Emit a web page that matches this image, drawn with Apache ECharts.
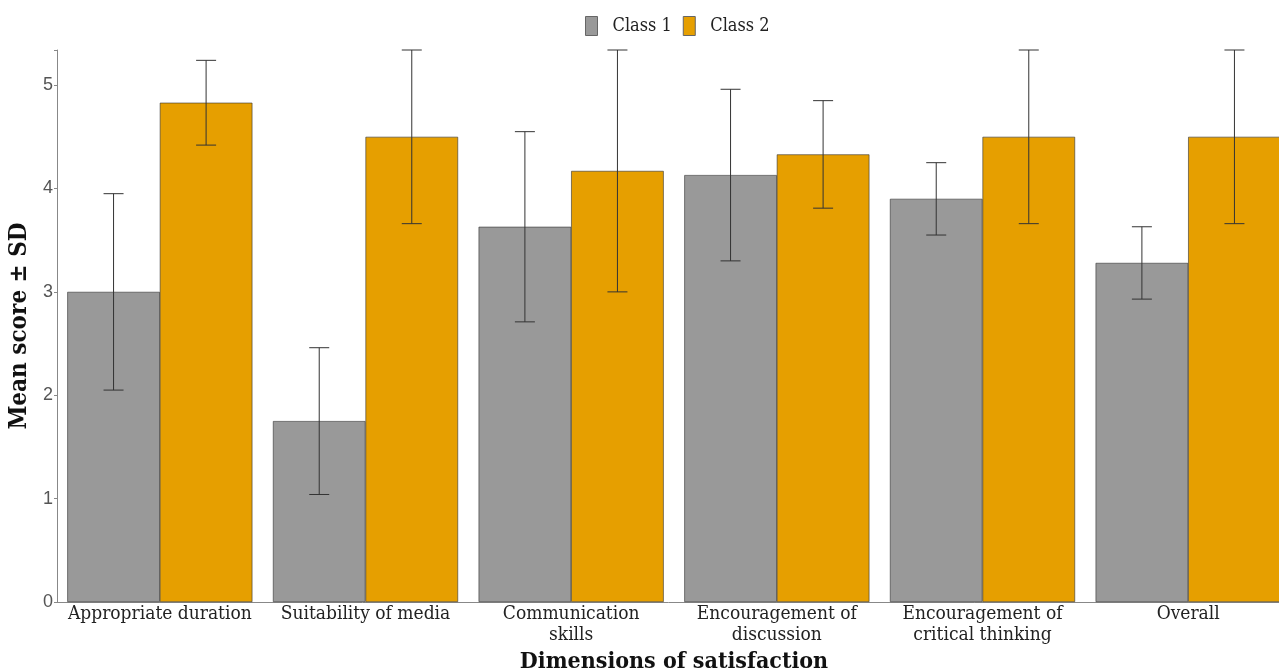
<!DOCTYPE html>
<html>
<head>
<meta charset="utf-8">
<script src="https://cdn.jsdelivr.net/npm/echarts@6/dist/echarts.min.js"></script>
<style>html,body{margin:0;padding:0;background:#fff;}#chart{width:1279px;height:669px;}</style>
</head>
<body>
<div id="chart"></div>
<script>
const categories = ['Appropriate duration', 'Suitability of media', 'Communication\nskills', 'Encouragement of\ndiscussion', 'Encouragement of\ncritical thinking', 'Overall'];
const seriesNames = ['Class 1', 'Class 2'];
const class1Mean = [3.0, 1.75, 3.63, 4.13, 3.9, 3.28];
const class1SD = [0.95, 0.71, 0.92, 0.83, 0.35, 0.35];
const class2Mean = [4.83, 4.5, 4.17, 4.33, 4.5, 4.5];
const class2SD = [0.41, 0.84, 1.17, 0.52, 0.84, 0.84];
const yTicks = [0, 1, 2, 3, 4, 5];

const serif = '"DejaVu Serif Condensed", "DejaVu Serif", "Liberation Serif", serif';

function errData(means, sds) {
  return means.map((m, i) => [i, m - sds[i], m + sds[i]]);
}

function errRender(side) {
  return function (params, api) {
    const idx = api.value(0);
    const band = api.size([1, 0])[0];
    const off = side * band * 0.9 / 4;
    const lo = api.coord([idx, api.value(1)]);
    const hi = api.coord([idx, api.value(2)]);
    const x = lo[0] + off;
    const cap = 10;
    const style = { stroke: '#333', lineWidth: 1 };
    return {
      type: 'group',
      children: [
        { type: 'line', shape: { x1: x, y1: hi[1], x2: x, y2: lo[1] }, style: style },
        { type: 'line', shape: { x1: x - cap, y1: hi[1], x2: x + cap, y2: hi[1] }, style: style },
        { type: 'line', shape: { x1: x - cap, y1: lo[1], x2: x + cap, y2: lo[1] }, style: style }
      ]
    };
  };
}

const chart = echarts.init(document.getElementById('chart'));
chart.setOption({
  animation: false,
  backgroundColor: '#fff',
  legend: {
    data: seriesNames,
    top: 11,
    left: 580,
    itemWidth: 12,
    itemHeight: 19,
    itemGap: 11,
    itemStyle: { borderColor: '#666', borderWidth: 1 },
    textStyle: { fontFamily: serif, fontSize: 18, color: '#222', padding: [0, 0, 0, 10] },
    icon: 'rect'
  },
  grid: { left: 57, right: -12, top: 50, bottom: 67, containLabel: false, outerBoundsMode: 'none' },
  xAxis: {
    type: 'category',
    data: categories,
    name: 'Dimensions of satisfaction',
    nameLocation: 'middle',
    nameGap: 45,
    nameTextStyle: { fontFamily: serif, fontSize: 23, fontWeight: 'bold', color: '#111' },
    axisLine: { lineStyle: { color: '#888', width: 1 } },
    axisTick: { show: false },
    axisLabel: { fontFamily: serif, fontSize: 19, color: '#222', margin: 2, lineHeight: 21, interval: 0 }
  },
  yAxis: {
    type: 'value',
    min: 0,
    max: 5.34,
    interval: 1,
    name: 'Mean score ± SD',
    nameLocation: 'middle',
    nameGap: 20,
    nameTextStyle: { fontFamily: serif, fontSize: 24, fontWeight: 'bold', color: '#111' },
    axisLine: { show: true, lineStyle: { color: '#888', width: 1 } },
    axisTick: { show: true, length: 3, lineStyle: { color: '#888' } },
    splitLine: { show: false },
    axisLabel: {
      fontFamily: '"Liberation Sans", Arial, sans-serif', fontSize: 18, color: '#555', margin: 4,
      formatter: function (v) { return yTicks.indexOf(v) >= 0 ? String(v) : ''; }
    }
  },
  series: [
    {
      name: seriesNames[0], type: 'bar', data: class1Mean,
      barGap: '0%', barCategoryGap: '10%',
      itemStyle: { color: '#999999', borderColor: '#333', borderWidth: 0.6 }
    },
    {
      name: seriesNames[1], type: 'bar', data: class2Mean,
      barGap: '0%', barCategoryGap: '10%',
      itemStyle: { color: '#E69F00', borderColor: '#333', borderWidth: 0.6 }
    },
    {
      type: 'custom', data: errData(class1Mean, class1SD), renderItem: errRender(-1),
      encode: { x: 0, y: [1, 2] }, z: 5, silent: true
    },
    {
      type: 'custom', data: errData(class2Mean, class2SD), renderItem: errRender(1),
      encode: { x: 0, y: [1, 2] }, z: 5, silent: true
    }
  ]
});
</script>
</body>
</html>
